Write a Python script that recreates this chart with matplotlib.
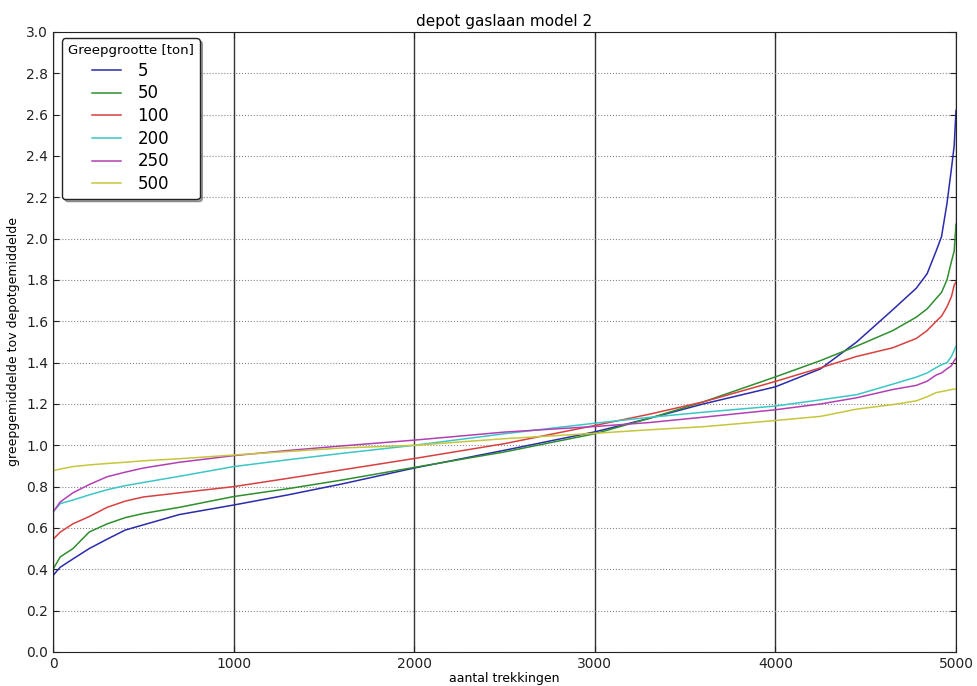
import matplotlib.pyplot as plt
import numpy as np

# number of draws (aantal trekkingen) at which values were read
trekkingen = [0, 40, 110, 200, 300, 400, 500, 700, 1000, 1300, 1600, 2000, 2500, 3000,
              3300, 3600, 4000, 4250, 4450, 4650, 4780, 4840, 4890, 4920, 4950, 4975, 4990, 5000]

greep_5 = [0.37, 0.41, 0.45, 0.50, 0.546, 0.59, 0.615, 0.665, 0.711, 0.76, 0.813, 0.89, 0.976, 1.065,
           1.13, 1.20, 1.283, 1.37, 1.50, 1.656, 1.76, 1.83, 1.94, 2.01, 2.17, 2.34, 2.45, 2.62]
greep_50 = [0.40, 0.46, 0.50, 0.58, 0.62, 0.65, 0.67, 0.70, 0.752, 0.79, 0.832, 0.893, 0.968, 1.056,
            1.13, 1.21, 1.331, 1.41, 1.48, 1.555, 1.62, 1.66, 1.71, 1.74, 1.80, 1.89, 1.94, 2.07]
greep_100 = [0.545, 0.58, 0.62, 0.655, 0.70, 0.73, 0.75, 0.77, 0.80, 0.84, 0.881, 0.936, 1.008, 1.096,
             1.15, 1.21, 1.309, 1.375, 1.43, 1.472, 1.517, 1.555, 1.60, 1.625, 1.67, 1.72, 1.775, 1.79]
greep_200 = [0.677, 0.718, 0.735, 0.76, 0.785, 0.805, 0.82, 0.85, 0.897, 0.93, 0.961, 1.0, 1.056, 1.107,
             1.135, 1.16, 1.19, 1.22, 1.245, 1.296, 1.33, 1.35, 1.376, 1.39, 1.40, 1.43, 1.46, 1.48]
greep_250 = [0.677, 0.726, 0.77, 0.81, 0.848, 0.87, 0.89, 0.918, 0.95, 0.975, 0.997, 1.025, 1.064, 1.091,
             1.11, 1.136, 1.172, 1.20, 1.23, 1.27, 1.29, 1.31, 1.34, 1.35, 1.37, 1.385, 1.41, 1.42]
greep_500 = [0.877, 0.885, 0.897, 0.905, 0.912, 0.918, 0.925, 0.935, 0.953, 0.97, 0.987, 1.0, 1.032, 1.058,
             1.075, 1.09, 1.12, 1.14, 1.175, 1.197, 1.215, 1.235, 1.255, 1.26, 1.265, 1.27, 1.272, 1.272]

labels = ['5', '50', '100', '200', '250', '500']
series = [greep_5, greep_50, greep_100, greep_200, greep_250, greep_500]
colors = ['#2b2bab', '#2f8f2f', '#d94040', '#3cc6c6', '#b340b3', '#c6c63c']

if __name__ == '__main__':
    fig = plt.figure(figsize=(9.78, 6.86), dpi=100)
    ax = fig.add_axes([0.0542, 0.0496, 0.9233, 0.9038])

    for values, label, color in zip(series, labels, colors):
        ax.plot(trekkingen, values, color=color, lw=1.1, label=label)

    ax.set_xlim(0, 5000)
    ax.set_ylim(0, 3.0)
    ax.set_xticks(np.arange(0, 5001, 1000))
    ax.set_yticks(np.arange(0, 3.01, 0.2))
    ax.set_yticklabels(['%.1f' % v for v in np.arange(0, 3.01, 0.2)])

    ax.xaxis.grid(True, color='#333333', linestyle='-', lw=1.0)
    ax.yaxis.grid(True, color='#888888', linestyle=':', lw=0.8)
    ax.set_axisbelow(True)

    ax.tick_params(axis='both', labelsize=10, colors='#222222', length=4)
    ax.tick_params(axis='y', direction='in', right=True)
    ax.tick_params(axis='x', direction='in', top=True)
    for spine in ax.spines.values():
        spine.set_color('#222222')

    ax.set_xlabel('aantal trekkingen', fontsize=9, labelpad=1)
    ax.set_ylabel('greepgemiddelde tov depotgemiddelde', fontsize=9)
    ax.set_title('depot gaslaan model 2', fontsize=11, pad=4)

    leg = ax.legend(title='Greepgrootte [ton]', loc='upper left', bbox_to_anchor=(0.01, 0.99),
                    borderaxespad=0, fontsize=12, title_fontsize=9.5, shadow=True, fancybox=True,
                    handlelength=1.7, handletextpad=1.0, labelspacing=0.28, borderpad=0.35)
    leg.get_frame().set_edgecolor('#222222')
    leg.get_frame().set_alpha(1)

    fig.savefig('out.png', dpi=100)
